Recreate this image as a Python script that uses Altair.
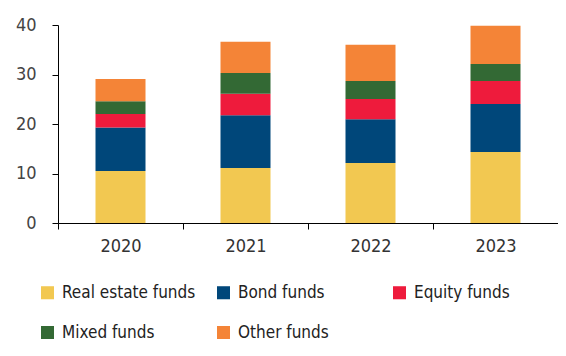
import altair as alt
import pandas as pd

years = ["2020", "2021", "2022", "2023"]
series = ["Real estate funds", "Bond funds", "Equity funds", "Mixed funds", "Other funds"]
colors = ["#F2C851", "#00477A", "#EE1B3C", "#336934", "#F48437"]
real_estate = [10.5, 11.1, 12.1, 14.35]
bond = [8.8, 10.65, 8.85, 9.7]
equity = [2.7, 4.35, 4.1, 4.65]
mixed = [2.6, 4.2, 3.65, 3.4]
other = [4.5, 6.3, 7.3, 7.75]

values = [real_estate, bond, equity, mixed, other]
rows = []
for si, (name, vals) in enumerate(zip(series, values)):
    for y, v in zip(years, vals):
        rows.append({"year": y, "series": name, "value": v, "order": si})
df = pd.DataFrame(rows)

FONT = "'DejaVu Sans Condensed', 'Open Sans', sans-serif"

chart = alt.Chart(df).mark_bar(width=alt.RelativeBandSize(0.4)).encode(
    x=alt.X("year:N", sort=years, title=None,
            scale=alt.Scale(paddingInner=0, paddingOuter=0),
            axis=alt.Axis(tickBand="extent", labelAngle=0, tickSize=6,
                          labelPadding=8, domainColor="#000", tickColor="#000",
                          labelFontSize=18, labelColor="#333", labelFont=FONT)),
    y=alt.Y("value:Q", title=None, stack="zero",
            scale=alt.Scale(domain=[0, 40]),
            axis=alt.Axis(values=[0, 10, 20, 30, 40], grid=False, tickSize=6,
                          labelPadding=16, domainColor="#000", tickColor="#000",
                          labelFontSize=18, labelColor="#444", labelFont=FONT)),
    color=alt.Color("series:N", sort=series,
                    scale=alt.Scale(domain=series, range=colors),
                    legend=alt.Legend(title=None, orient="none", legendX=-19, legendY=259,
                                      direction="horizontal", columns=3, gridAlign="all",
                                      columnPadding=19, rowPadding=22,
                                      symbolType="square", symbolSize=170,
                                      symbolStrokeWidth=0, symbolOffset=0,
                                      labelFontSize=17, labelFont=FONT, labelColor="#222",
                                      labelOffset=6, labelLimit=300)),
    order=alt.Order("order:Q", sort="ascending"),
).properties(
    width=500, height=198,
    padding={"left": 50, "top": 17, "right": 0, "bottom": 123},
    autosize=alt.AutoSizeParams(type="none"),
).configure_view(stroke=None)

chart.save("out.html", embed_options={"renderer": "svg", "actions": False})
